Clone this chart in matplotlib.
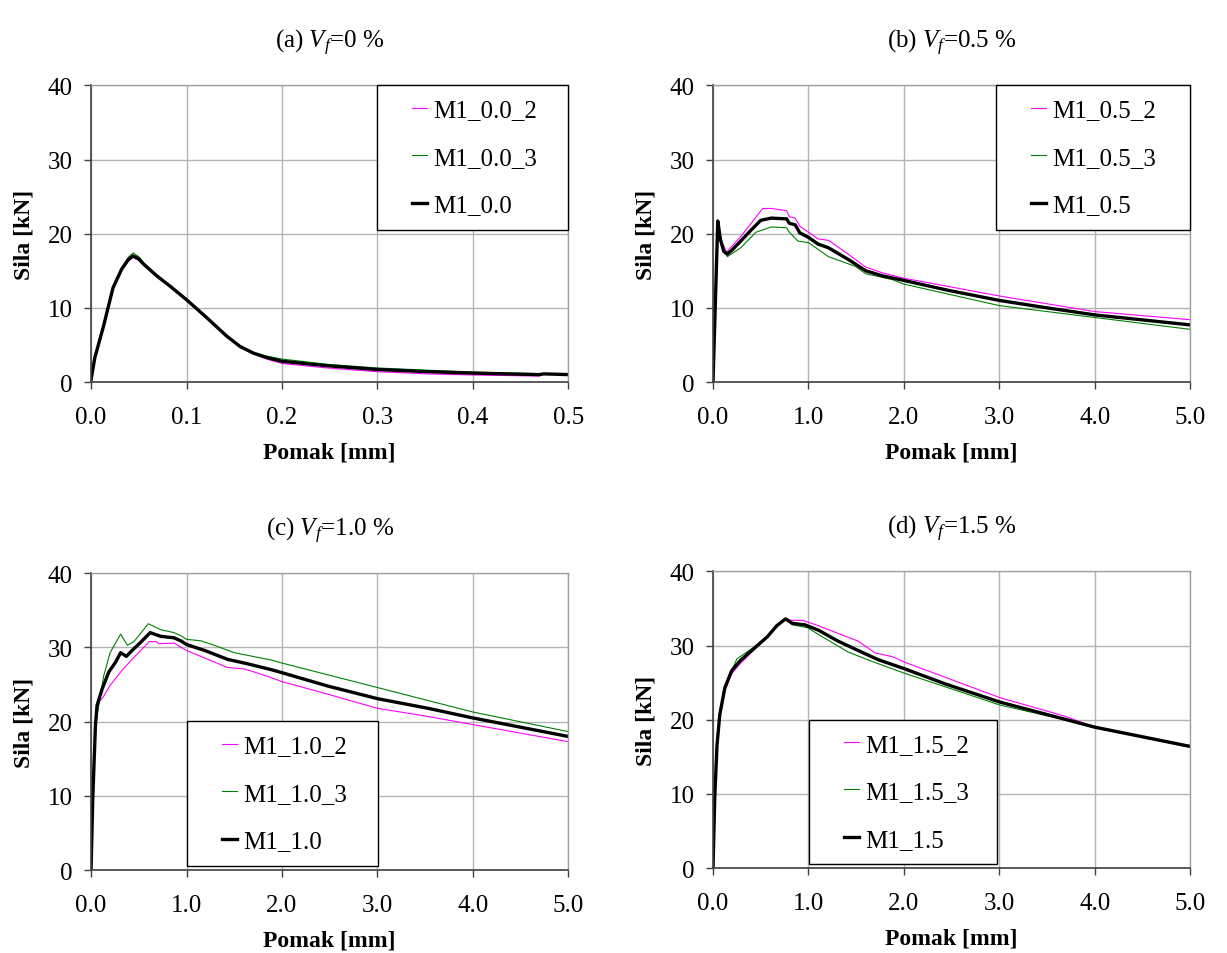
import numpy as np
import matplotlib
matplotlib.use("Agg")
import matplotlib.pyplot as plt
from matplotlib.legend_handler import HandlerLine2D

plt.rcParams['font.family'] = ['Liberation Serif', 'DejaVu Serif']
plt.rcParams['mathtext.fontset'] = 'custom'
plt.rcParams['mathtext.rm'] = 'Liberation Serif'
plt.rcParams['mathtext.it'] = 'Liberation Serif:italic'

# ---- (a) Vf = 0 %
a_x2 = [0, 0.004, 0.013, 0.023, 0.032, 0.039, 0.044, 0.05, 0.055, 0.069, 0.083, 0.1, 0.121, 0.142, 0.156, 0.17, 0.184, 0.2, 0.247, 0.299, 0.352, 0.4, 0.47]
a_y2 = [0.3, 3.2, 7.4, 12.5, 15.0, 16.3, 16.8, 16.4, 15.8, 14.2, 12.9, 11.1, 8.7, 6.2, 4.8, 3.8, 3.1, 2.5, 1.9, 1.4, 1.1, 0.95, 0.8]
a_x3 = [0, 0.004, 0.013, 0.023, 0.032, 0.039, 0.044, 0.05, 0.055, 0.069, 0.083, 0.1, 0.121, 0.142, 0.156, 0.17, 0.184, 0.2, 0.247, 0.299, 0.352, 0.4, 0.475]
a_y3 = [0.3, 3.4, 7.6, 12.8, 15.4, 16.8, 17.4, 16.9, 16.1, 14.4, 13.0, 11.2, 8.8, 6.3, 4.9, 4.0, 3.5, 3.1, 2.4, 1.9, 1.6, 1.35, 1.1]
a_xm = [0, 0.004, 0.013, 0.023, 0.032, 0.039, 0.044, 0.05, 0.055, 0.069, 0.083, 0.1, 0.121, 0.142, 0.156, 0.17, 0.184, 0.2, 0.247, 0.299, 0.352, 0.4, 0.47, 0.474, 0.5]
a_ym = [0.3, 3.3, 7.5, 12.7, 15.2, 16.5, 17.0, 16.6, 15.9, 14.3, 12.9, 11.1, 8.7, 6.2, 4.8, 3.9, 3.3, 2.8, 2.2, 1.7, 1.4, 1.2, 1.0, 1.1, 1.0]

# ---- (b) Vf = 0.5 %
b_x2 = [0, 0.05, 0.085, 0.14, 0.29, 0.4, 0.52, 0.61, 0.77, 0.8, 0.86, 0.91, 1.0, 1.1, 1.21, 1.42, 1.6, 1.78, 2.0, 3.0, 4.0, 5.0]
b_y2 = [0, 21.9, 19.2, 17.5, 19.6, 21.4, 23.4, 23.4, 23.1, 22.3, 22.1, 21.0, 20.2, 19.3, 19.1, 17.2, 15.5, 14.7, 14.0, 11.6, 9.5, 8.4]
b_x3 = [0, 0.05, 0.085, 0.15, 0.29, 0.45, 0.61, 0.77, 0.8, 0.89, 1.0, 1.21, 1.49, 1.6, 1.88, 2.0, 3.0, 4.0, 5.0]
b_y3 = [0, 21.4, 18.8, 16.9, 18.1, 20.2, 20.9, 20.8, 20.2, 19.0, 18.8, 16.9, 15.6, 14.6, 13.8, 13.2, 10.3, 8.7, 7.1]
b_xm = [0, 0.05, 0.078, 0.113, 0.15, 0.2, 0.29, 0.4, 0.5, 0.61, 0.77, 0.8, 0.86, 0.91, 1.0, 1.1, 1.21, 1.42, 1.6, 1.78, 2.0, 2.45, 3.0, 3.5, 4.0, 5.0]
b_ym = [0, 21.7, 19.2, 17.6, 17.25, 17.8, 19.0, 20.5, 21.8, 22.1, 22.0, 21.4, 21.2, 20.1, 19.5, 18.6, 18.1, 16.5, 15.0, 14.3, 13.7, 12.4, 11.0, 10.0, 9.05, 7.7]

# ---- (c) Vf = 1.0 %
c_x2 = [0, 0.018, 0.046, 0.08, 0.126, 0.2, 0.33, 0.43, 0.61, 0.68, 0.71, 0.87, 0.92, 1.0, 1.43, 1.61, 1.85, 2.0, 2.48, 3.0, 3.53, 4.0, 5.0]
c_y2 = [0, 9.6, 19.5, 22.6, 23.3, 24.9, 27.0, 28.4, 30.8, 30.8, 30.5, 30.6, 30.2, 29.6, 27.3, 27.1, 26.1, 25.4, 23.7, 21.8, 20.7, 19.6, 17.3]
c_x3 = [0, 0.018, 0.046, 0.133, 0.2, 0.31, 0.38, 0.45, 0.6, 0.73, 0.87, 0.94, 1.0, 1.15, 1.29, 1.5, 1.89, 2.0, 3.0, 4.0, 5.0]
c_y3 = [0, 9.6, 19.5, 26.2, 29.3, 31.8, 30.3, 30.8, 33.2, 32.4, 32.0, 31.6, 31.1, 30.9, 30.3, 29.3, 28.3, 27.9, 24.6, 21.3, 18.65]
c_xm = [0, 0.018, 0.046, 0.063, 0.116, 0.186, 0.256, 0.31, 0.37, 0.43, 0.52, 0.62, 0.73, 0.87, 0.94, 1.0, 1.19, 1.43, 1.64, 1.89, 2.0, 2.48, 3.0, 3.53, 4.0, 5.0]
c_ym = [0, 9.6, 19.5, 22.2, 24.4, 26.7, 28.0, 29.3, 28.8, 29.6, 30.7, 32.0, 31.5, 31.3, 30.9, 30.4, 29.6, 28.4, 27.8, 27.0, 26.6, 24.8, 23.1, 21.8, 20.5, 18.0]

# ---- (d) Vf = 1.5 %
d_x2 = [0, 0.018, 0.042, 0.071, 0.124, 0.195, 0.28, 0.42, 0.57, 0.67, 0.76, 0.83, 0.94, 1.1, 1.52, 1.7, 1.88, 2.0, 3.0, 3.68, 4.0, 5.0]
d_y2 = [0, 9.2, 16.3, 20.3, 23.9, 26.2, 27.5, 29.3, 31.2, 32.7, 33.6, 33.4, 33.4, 32.7, 30.6, 29.0, 28.5, 27.8, 23.0, 20.5, 19.0, 16.5]
d_x3 = [0, 0.018, 0.042, 0.071, 0.124, 0.25, 0.42, 0.57, 0.67, 0.76, 0.83, 0.99, 1.13, 1.42, 1.7, 2.0, 3.0, 3.68, 4.0, 5.0]
d_y3 = [0, 9.6, 16.9, 21.0, 24.5, 28.2, 29.7, 31.2, 32.7, 33.6, 32.8, 32.4, 31.3, 29.1, 27.7, 26.3, 22.0, 20.0, 18.9, 16.3]
d_xm = [0, 0.018, 0.042, 0.071, 0.124, 0.195, 0.28, 0.42, 0.57, 0.67, 0.76, 0.83, 0.96, 1.1, 1.31, 1.56, 1.73, 2.0, 2.44, 3.0, 3.5, 4.0, 5.0]
d_ym = [0, 9.4, 16.6, 20.7, 24.3, 26.6, 27.9, 29.5, 31.2, 32.7, 33.6, 33.0, 32.8, 32.1, 30.6, 29.1, 28.1, 26.9, 24.8, 22.4, 20.7, 19.0, 16.4]

titles = ['(a) $V_f$=0 %', '(b) $V_f$=0.5 %', '(c) $V_f$=1.0 %', '(d) $V_f$=1.5 %']
names = [['M1_0.0_2', 'M1_0.0_3', 'M1_0.0'],
         ['M1_0.5_2', 'M1_0.5_3', 'M1_0.5'],
         ['M1_1.0_2', 'M1_1.0_3', 'M1_1.0'],
         ['M1_1.5_2', 'M1_1.5_3', 'M1_1.5']]
series = [[(a_x2, a_y2), (a_x3, a_y3), (a_xm, a_ym)],
          [(b_x2, b_y2), (b_x3, b_y3), (b_xm, b_ym)],
          [(c_x2, c_y2), (c_x3, c_y3), (c_xm, c_ym)],
          [(d_x2, d_y2), (d_x3, d_y3), (d_xm, d_ym)]]
xmax = [0.5, 5.0, 5.0, 5.0]
xticks = [np.arange(0, 0.51, 0.1), np.arange(0, 5.1, 1.0), np.arange(0, 5.1, 1.0), np.arange(0, 5.1, 1.0)]

# axes rectangles in figure fraction
rects = [[0.0742, 0.5985, 0.389, 0.311],
         [0.5811, 0.5985, 0.389, 0.311],
         [0.0742, 0.0870, 0.389, 0.311],
         [0.5811, 0.0890, 0.389, 0.311]]
leg_box = [(0.6, 0.5, 0.4, 0.5), (0.593, 0.5, 0.407, 0.5),
           (0.2017, 0.0135, 0.3993, 0.4915), (0.201, 0.0135, 0.394, 0.4915)]
leg_loc = ['upper right', 'upper right', 'lower left', 'lower left']

colors = ['#ff00ff', '#008000', 'black']
widths = [0.8, 0.8, 2.4]

fig = plt.figure(figsize=(12.27, 9.54), dpi=100)

for i in range(4):
    ax = fig.add_axes(rects[i])
    for (x, y), c, w, n in zip(series[i], colors, widths, names[i]):
        ax.plot(x, y, '-', color=c, lw=w, label=n)
    ax.set_xlim(0, xmax[i])
    ax.set_ylim(0, 40)
    ax.set_xticks(xticks[i])
    ax.set_xticklabels(['%.1f' % t for t in xticks[i]])
    ax.set_yticks([0, 10, 20, 30, 40])
    ax.grid(True, color='#b4b4b4', lw=1.0)
    ax.set_axisbelow(True)
    ax.tick_params(direction='out', length=5, width=1, labelsize=18, color='#404040')
    ax.tick_params(axis='x', pad=12)
    ax.tick_params(axis='y', pad=8)
    for s in ['left', 'bottom']:
        ax.spines[s].set_color('#404040')
        ax.spines[s].set_linewidth(1.2)
    for s in ['top', 'right']:
        ax.spines[s].set_color('#a0a0a0')
        ax.spines[s].set_linewidth(1.0)
    ax.set_xlabel('Pomak [mm]', fontsize=17, fontweight='bold', labelpad=10)
    ax.set_ylabel('Sila [kN]', fontsize=17, fontweight='bold', labelpad=10)
    ax.set_title(titles[i], fontsize=18, pad=27)
    leg = ax.legend(loc=leg_loc[i], bbox_to_anchor=leg_box[i], mode='expand',
                    borderaxespad=0, fontsize=18, fancybox=False, framealpha=1,
                    edgecolor='black', borderpad=0.54, labelspacing=1.0,
                    handlelength=2.32, handletextpad=-0.62, numpoints=2,
                    handler_map={plt.Line2D: HandlerLine2D(marker_pad=0.86)})
    leg.get_frame().set_linewidth(1.0)

fig.savefig('out.png', dpi=100)
